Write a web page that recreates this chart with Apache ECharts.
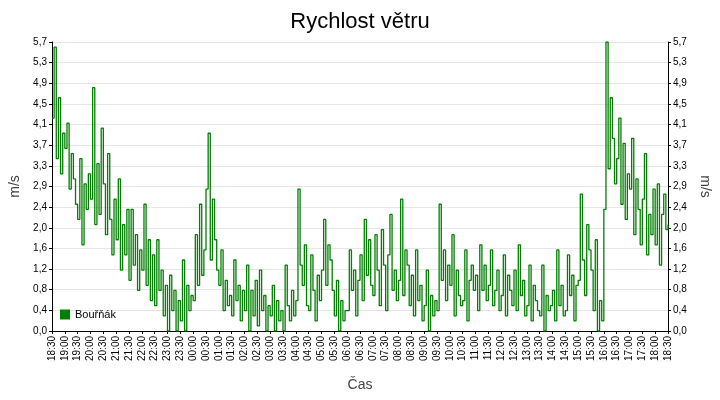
<!DOCTYPE html>
<html><head><meta charset="utf-8">
<script src="https://cdn.jsdelivr.net/npm/echarts@6/dist/echarts.min.js"></script>
<style>html,body{margin:0;padding:0;background:#fff}#c{width:720px;height:400px}</style>
</head><body><div id="c"></div>
<script>
const title = "Rychlost větru";
const seriesName = "Bouřňák";
const startTime = "18:30";
// wind speed every 5 minutes, 18:30 -> 18:30 next day (6 values per half hour)
const values = [
 4.2,5.6,3.4,4.6,3.1,3.9,
 3.6,4.1,2.8,3.5,3.0,2.5,
 2.2,3.4,1.7,2.9,2.4,3.1,
 2.6,4.8,2.1,3.3,2.3,4.0,
 2.9,1.9,3.5,2.2,1.5,2.6,
 1.8,3.0,1.2,2.1,1.5,2.4,
 1.0,2.4,1.3,1.9,0.8,1.6,
 1.2,2.5,0.9,1.8,0.6,1.5,
 0.5,1.8,0.8,1.2,0.3,0.9,
 0.0,1.1,0.4,0.8,0.0,0.6,
 0.2,1.4,0.0,0.9,0.4,0.7,
 0.6,1.9,0.9,2.5,1.1,1.6,
 2.8,3.9,1.4,2.6,1.8,1.2,
 0.9,1.6,0.4,1.0,0.5,0.7,
 0.3,1.4,0.6,0.9,0.2,0.8,
 0.4,1.3,0.0,0.8,0.3,1.0,
 0.1,1.2,0.4,0.7,0.0,0.5,
 0.3,0.9,0.0,0.6,0.2,0.4,
 0.0,1.3,0.5,0.2,0.8,0.3,
 0.6,2.8,1.3,0.9,1.7,0.5,
 0.4,1.5,0.8,0.2,1.1,0.6,
 1.2,2.2,0.9,1.7,1.4,0.8,
 0.3,1.0,0.0,0.6,0.2,0.4,
 0.4,1.6,0.8,1.2,0.3,1.0,
 1.5,0.6,2.2,1.1,1.8,0.9,
 0.7,1.9,1.2,0.5,2.0,1.3,
 0.4,1.5,2.3,0.8,1.2,0.6,
 1.0,2.6,0.7,1.6,1.3,0.5,
 1.1,0.3,1.6,0.6,0.9,0.2,
 0.5,1.2,0.0,0.7,0.3,0.6,
 0.4,2.5,1.0,1.6,0.6,1.3,
 0.9,1.9,0.3,1.2,0.7,0.5,
 0.6,1.6,0.2,1.0,1.3,0.8,
 1.1,0.4,1.7,0.8,1.3,0.6,
 0.9,1.6,0.5,0.8,1.2,0.4,
 0.7,1.5,0.3,1.1,0.8,0.5,
 1.2,0.4,1.7,0.7,1.0,0.3,
 0.5,1.3,0.2,0.9,0.6,0.4,
 0.3,1.3,0.0,0.7,0.4,0.5,
 0.8,0.2,1.6,0.5,0.9,0.3,
 0.4,1.5,0.7,1.1,0.2,0.9,
 1.0,2.7,1.4,0.7,2.1,1.6,
 1.2,0.4,1.8,0.0,0.6,0.2,
 2.4,5.7,3.2,4.6,3.8,2.9,
 3.4,4.2,2.5,3.7,2.2,3.1,
 2.8,3.8,1.9,3.0,2.4,1.7,
 2.6,3.5,1.5,2.3,1.9,2.8,
 1.7,2.9,1.3,2.3,2.7,2.0,
 2.1
];
const categories = [];
{ let [h,m] = startTime.split(':').map(Number); let t=h*60+m;
  for (let i=0;i<values.length;i++){ const tt=(t+i*5)%1440;
    categories.push(String(Math.floor(tt/60)).padStart(2,'0')+':'+String(tt%60).padStart(2,'0')); } }
const fmt = v => (Math.round(v*10+1e-6)/10).toFixed(1).replace('.',',');
const yAx = (pos) => ({
  type:'value', position:pos, min:0, max:5.7, interval:5.7/14,
  name:'m/s', nameLocation:'middle', nameGap:30, nameRotate: pos==='left'?90:-90,
  nameTextStyle:{fontSize:14,color:'#444',fontFamily:'Arial'},
  axisLine:{show:true,lineStyle:{color:'#000'}}, axisTick:{show:true,length:3,lineStyle:{color:'#000'}},
  axisLabel:{formatter:fmt,fontSize:10,color:'#000',fontFamily:'Arial',margin:5},
  splitLine:{show:pos==='left',lineStyle:{color:'#e6e6e6'}}
});
const chart = echarts.init(document.getElementById('c'));
chart.setOption({
  animation:false,
  title:{text:title,left:'center',top:6,textStyle:{fontSize:22,fontWeight:'normal',color:'#000',fontFamily:'Arial'}},
  grid:{left:50,right:52,top:42,bottom:69},
  legend:{left:55,bottom:75,orient:'vertical',icon:'rect',itemWidth:10,itemHeight:10,
    textStyle:{fontSize:11,color:'#000',fontFamily:'Arial'},data:[seriesName]},
  xAxis:{type:'category',data:categories,boundaryGap:false,
    name:'Čas',nameLocation:'middle',nameGap:47,nameTextStyle:{fontSize:14,color:'#444',fontFamily:'Arial'},
    axisLine:{lineStyle:{color:'#000'}},axisTick:{interval:5,length:3,lineStyle:{color:'#000'}},
    axisLabel:{interval:5,rotate:90,fontSize:10,color:'#000',fontFamily:'Arial',margin:5},
    splitLine:{show:false}},
  yAxis:[yAx('left'),yAx('right')],
  series:[{name:seriesName,type:'line',step:'end',data:values,symbol:'none',
    itemStyle:{color:'#007f00'},lineStyle:{color:'#007f00',width:1.3}}]
});
</script></body></html>
